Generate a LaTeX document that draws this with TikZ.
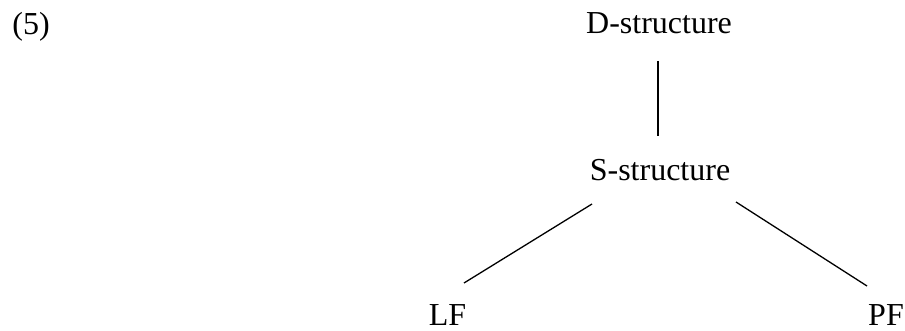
\documentclass[tikz,border=0pt]{standalone}
\usepackage{fontspec}
\setmainfont{Liberation Serif}
\usepackage{tikz}

\begin{document}
\begin{tikzpicture}[x=0.5pt,y=-0.5pt,
    term/.style={inner sep=0pt,anchor=base,font=\fontsize{16pt}{19pt}\selectfont},
    stem/.style={line width=1.35pt},
    branch/.style={line width=0.65pt}]
      \useasboundingbox (0,0) rectangle (905,331);

      \node [term,anchor=base west] (num) at (12,35) {(5)};

      \node [term] (ds) at (659,34) {D-structure};
      \node [term] (ss) at (660,181) {S-structure};
      \node [term] (lf) at (447.5,326) {LF};
      \node [term] (pf) at (886,326) {PF};

      \draw [stem] ([xshift=-0.5pt,yshift=-13.5pt]ds.base) -- ([xshift=-1pt,yshift=22.5pt]ss.base);

      \draw [branch] ([xshift=-34pt,yshift=-11.5pt]ss.base) -- ([xshift=8.25pt,yshift=21.5pt]lf.base);
      \draw [branch] ([xshift=38pt,yshift=-10.5pt]ss.base) -- ([xshift=-9.5pt,yshift=20pt]pf.base);

    \end{tikzpicture}
\end{document}
